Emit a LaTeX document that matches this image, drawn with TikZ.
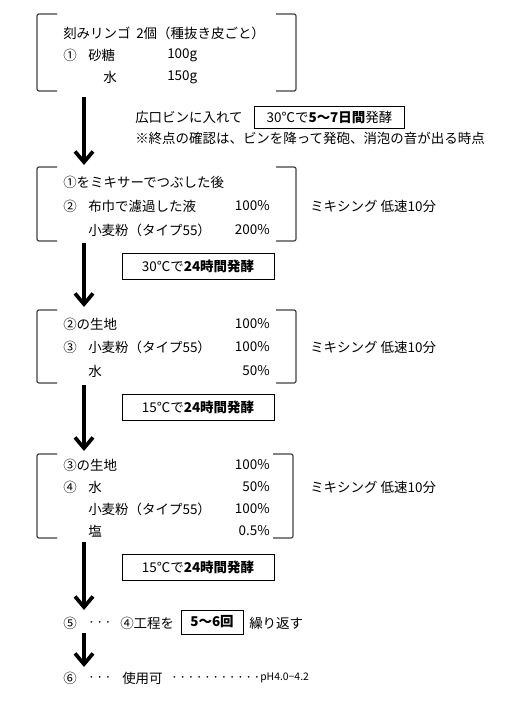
\documentclass[tikz,border=0pt]{standalone}
\usepackage{fontspec}
\setmainfont{Noto Sans CJK JP}
\usetikzlibrary{arrows.meta}

\begin{document}
\begin{tikzpicture}[x=0.75pt,y=-0.75pt,
    txt/.style={anchor=west, inner sep=0pt, font=\fontsize{10.1pt}{12pt}\selectfont},
    num/.style={txt, anchor=east},
    dots/.style={anchor=west, inner sep=0pt, font=\fontsize{6.2pt}{7pt}\selectfont},
    stepbox/.style={draw, line width=0.7pt, inner sep=0pt, minimum width=114pt, minimum height=19.5pt, font=\fontsize{10.1pt}{12pt}\selectfont},
    bracket/.style={draw=black!75, line width=0.9pt, rounded corners=1.5pt},
    flow/.style={line width=2.8pt, -{Straight Barb[length=8pt, width=13.5pt, line width=2.8pt]}}]
    \useasboundingbox (0,0) rectangle (528,703);
    % brackets round the ingredient groups
    \foreach \top/\bot/\rx in {14/91/296, 167/241/296, 310/383/296, 454/538/293}{
        \draw[bracket] (57,\top) -- (37,\top) -- (37,\bot) -- (57,\bot);
        \draw[bracket] (\rx-20,\top) -- (\rx,\top) -- (\rx,\bot) -- (\rx-20,\bot);
    }
    % group 1
    \node[txt] (apple) at (63,33) {刻みリンゴ};
    \node[txt] (applenote) at (136,33) {2個（種抜き皮ごと）};
    \node[txt] (n1) at (63,55) {①};
    \node[txt] (sugar) at (88,55) {砂糖};
    \node[txt] (sugarq) at (167,55) {100g};
    \node[txt] (water1) at (103,77) {水};
    \node[txt] (water1q) at (167,77) {150g};
    \coordinate (s1) at (84,97);
    \coordinate (t1) at (84,165);
    \node[txt] (bottle) at (135,117) {広口ビンに入れて};
    \node[stepbox, minimum width=113pt, minimum height=16.5pt] (ferm1) at (329.5,117) {30℃で\textbf{5〜7日間}発酵};
    \node[txt] (note) at (135,138) {※終点の確認は、ビンを降って発砲、消泡の音が出る時点};
    % group 2
    \node[txt] (mix) at (63,182) {①をミキサーでつぶした後};
    \node[txt] (n2) at (63,206) {②};
    \node[txt] (liquid) at (88,206) {布巾で濾過した液};
    \node[num] (liquidq) at (270,206) {100\%};
    \node[txt] (flour2) at (88,230) {小麦粉（タイプ55）};
    \node[num] (flour2q) at (270,230) {200\%};
    \node[txt] (speed2) at (310,206) {ミキシング 低速10分};
    \coordinate (s2) at (84,243);
    \coordinate (t2) at (84,307);
    \node[stepbox] (ferm2) at (198,266.5) {30℃で\textbf{24時間発酵}};
    % group 3
    \node[txt] (dough3) at (63,324) {②の生地};
    \node[num] (dough3q) at (270,324) {100\%};
    \node[txt] (n3) at (63,347) {③};
    \node[txt] (flour3) at (88,347) {小麦粉（タイプ55）};
    \node[num] (flour3q) at (270,347) {100\%};
    \node[txt] (water3) at (88,371) {水};
    \node[num] (water3q) at (270,371) {50\%};
    \node[txt] (speed3) at (310,347) {ミキシング 低速10分};
    \coordinate (s3) at (84,385);
    \coordinate (t3) at (84,451);
    \node[stepbox] (ferm3) at (198,407) {15℃で\textbf{24時間発酵}};
    % group 4
    \node[txt] (dough4) at (63,465) {③の生地};
    \node[num] (dough4q) at (270,465) {100\%};
    \node[txt] (n4) at (63,487) {④};
    \node[txt] (water4) at (88,487) {水};
    \node[num] (water4q) at (270,487) {50\%};
    \node[txt] (flour4) at (88,509) {小麦粉（タイプ55）};
    \node[num] (flour4q) at (270,509) {100\%};
    \node[txt] (salt) at (88,531) {塩};
    \node[num] (saltq) at (270,531) {0.5\%};
    \node[txt] (speed4) at (310,487) {ミキシング 低速10分};
    \coordinate (s4) at (84,542);
    \coordinate (t4) at (84,610);
    \node[stepbox] (ferm4) at (198,567.5) {15℃で\textbf{24時間発酵}};
    % repeat and finish
    \node[txt] (n5) at (63,623) {⑤};
    \node[dots] (dots5) at (87,623) {・・・};
    \node[txt] (step5) at (120,623) {④工程を};
    \node[stepbox, minimum width=46.5pt, minimum height=18pt] (times) at (212,622) {\textbf{5〜6回}};
    \node[txt] (again) at (249,623) {繰り返す};
    \coordinate (s5) at (84,633);
    \coordinate (t5) at (84,667);
    \node[txt] (n6) at (63,678) {⑥};
    \node[dots] (dots6) at (87,678) {・・・};
    \node[txt] (ready) at (122,678) {使用可};
    \node[dots] (leader) at (170,678) {・・・・・・・・・・・};
    \node[anchor=west, inner sep=0pt, font=\fontsize{7.8pt}{9pt}\selectfont] (ph) at (260,678) {pH4.0−4.2};
    % arrows
    \foreach \i in {1,...,5}
        \draw[flow] (s\i) -- (t\i);
\end{tikzpicture}
\end{document}
